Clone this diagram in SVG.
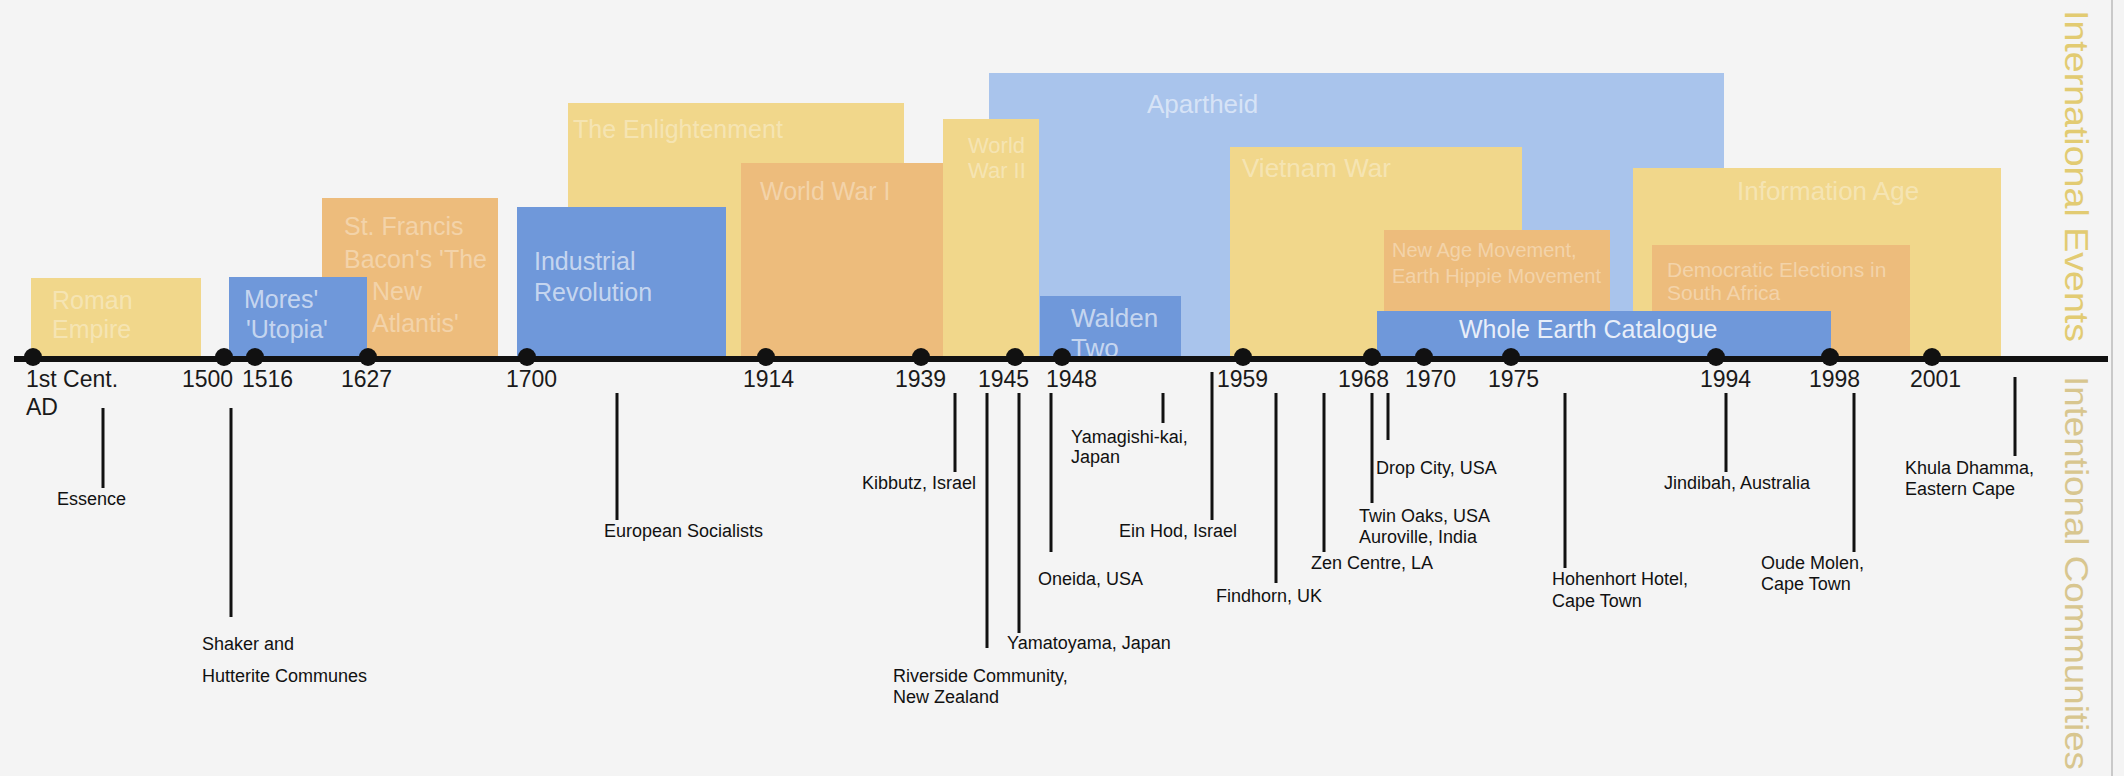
<svg xmlns="http://www.w3.org/2000/svg" width="2124" height="776" viewBox="0 0 2124 776">
<defs>
<style>
text{font-family:"Liberation Sans",Arial,sans-serif}
.y{fill:#f1d78b}
.o{fill:#edbc7c}
.b{fill:#6f98da}
.lb{fill:#a9c4ec}
.tw{fill:#ffffff;fill-opacity:0.36;font-size:25px}
.tb{fill:#ffffff;fill-opacity:0.62;font-size:25px}
.yr{fill:#1a1a1a;font-size:23px}
.lab{fill:#111;font-size:18px}
.ld{stroke:#111;stroke-width:3;fill:none}
.dot{fill:#111}
</style>
<clipPath id="cw2"><rect x="943" y="119" width="96" height="240"/></clipPath>
<clipPath id="cbac"><rect x="322" y="198" width="176" height="161"/></clipPath>
</defs>
<rect x="0" y="0" width="2124" height="776" fill="#f4f4f4"/>

<g id="roman-empire"><rect class="y" x="31" y="278" width="170" height="81"/><text class="tw" x="52" y="309">Roman</text><text class="tw" x="52" y="338">Empire</text></g>
<g id="bacon"><rect class="o" x="322" y="198" width="176" height="161"/><g clip-path="url(#cbac)"><text class="tw" x="344" y="235">St. Francis</text><text class="tw" x="344" y="268">Bacon's 'The</text><text class="tw" x="372" y="300">New</text><text class="tw" x="372" y="332">Atlantis'</text></g></g>
<g id="mores-utopia"><rect class="b" x="229" y="277" width="138" height="82"/><text class="tb" x="244" y="308">Mores'</text><text class="tb" x="246" y="338">'Utopia'</text></g>
<g id="enlightenment"><rect class="y" x="568" y="103" width="336" height="256"/><text class="tw" x="573" y="138">The Enlightenment</text></g>
<g id="world-war-1"><rect class="o" x="741" y="163" width="220" height="196"/><text class="tw" x="760" y="200" font-size="24">World War I</text></g>
<g id="industrial-revolution"><rect class="b" x="517" y="207" width="209" height="152"/><text class="tb" x="534" y="270">Industrial</text><text class="tb" x="534" y="301">Revolution</text></g>
<g id="apartheid"><rect class="lb" x="989" y="73" width="735" height="286"/><text class="tw" x="1147" y="113" style="font-size:26px;fill-opacity:0.55">Apartheid</text></g>
<g id="world-war-2"><rect class="y" x="943" y="119" width="96" height="240"/><g clip-path="url(#cw2)"><text class="tw" x="968" y="153" style="font-size:22px">World</text><text class="tw" x="968" y="178" style="font-size:22px">War II</text></g></g>
<g id="walden-two"><rect class="b" x="1040" y="296" width="141" height="63"/><text class="tb" x="1071" y="327" style="font-size:26px">Walden</text><text class="tb" x="1071" y="357" style="font-size:26px">Two</text></g>
<g id="vietnam-war"><rect class="y" x="1230" y="147" width="292" height="212"/><text class="tw" x="1242" y="177" style="font-size:26px">Vietnam War</text></g>
<g id="new-age"><rect class="o" x="1384" y="230" width="226" height="129"/><text class="tw" x="1392" y="257" style="font-size:20px">New Age Movement,</text><text class="tw" x="1392" y="283" style="font-size:20px">Earth Hippie Movement</text></g>
<g id="information-age"><rect class="y" x="1633" y="168" width="368" height="191"/><text class="tw" x="1737" y="200" style="font-size:26px">Information Age</text></g>
<g id="democratic-elections"><rect class="o" x="1652" y="245" width="258" height="114"/><text class="tw" x="1667" y="277" style="font-size:21px">Democratic Elections in</text><text class="tw" x="1667" y="300" style="font-size:21px">South Africa</text></g>
<g id="whole-earth-catalogue"><rect class="b" x="1377" y="311" width="454" height="48"/><text class="tb" x="1459" y="338" style="fill-opacity:0.85">Whole Earth Catalogue</text></g>

<g id="side-titles">
<line x1="2112" y1="0" x2="2112" y2="776" stroke="#c9c9c9" stroke-width="2"/>
<text transform="translate(2065,10) rotate(90)" x="0" y="0" font-size="34" fill="#e2cb72" textLength="332" lengthAdjust="spacingAndGlyphs">International Events</text>
<text transform="translate(2065,376) rotate(90)" x="0" y="0" font-size="34" fill="#d8c68f" textLength="394" lengthAdjust="spacingAndGlyphs">Intentional Communities</text>
</g>

<g id="axis">
<line x1="14" y1="359" x2="2108" y2="359" stroke="#111" stroke-width="6"/>
<g class="dot">
<circle cx="33" cy="357" r="9"/><circle cx="224" cy="357" r="9"/><circle cx="255" cy="357" r="9"/><circle cx="368" cy="357" r="9"/><circle cx="527" cy="357" r="9"/><circle cx="766" cy="357" r="9"/><circle cx="921" cy="357" r="9"/><circle cx="1015" cy="357" r="9"/><circle cx="1062" cy="357" r="9"/><circle cx="1243" cy="357" r="9"/><circle cx="1372" cy="357" r="9"/><circle cx="1424" cy="357" r="9"/><circle cx="1511" cy="357" r="9"/><circle cx="1716" cy="357" r="9"/><circle cx="1830" cy="357" r="9"/><circle cx="1932" cy="357" r="9"/>
</g>
<g class="yr">
<text x="26" y="387">1st Cent.</text><text x="26" y="415">AD</text>
<text x="182" y="387">1500</text><text x="242" y="387">1516</text><text x="341" y="387">1627</text><text x="506" y="387">1700</text><text x="743" y="387">1914</text><text x="895" y="387">1939</text><text x="978" y="387">1945</text><text x="1046" y="387">1948</text><text x="1217" y="387">1959</text><text x="1338" y="387">1968</text><text x="1405" y="387">1970</text><text x="1488" y="387">1975</text><text x="1700" y="387">1994</text><text x="1809" y="387">1998</text><text x="1910" y="387">2001</text>
</g>
</g>

<g id="connectors" class="ld">
<line x1="103" y1="408" x2="103" y2="488"/>
<line x1="231" y1="408" x2="231" y2="617"/>
<line x1="617" y1="393" x2="617" y2="520"/>
<line x1="955" y1="393" x2="955" y2="472"/>
<line x1="987" y1="393" x2="987" y2="648"/>
<line x1="1019" y1="393" x2="1019" y2="633"/>
<line x1="1051" y1="393" x2="1051" y2="552"/>
<line x1="1163" y1="393" x2="1163" y2="423"/>
<line x1="1212" y1="372" x2="1212" y2="520"/>
<line x1="1276" y1="393" x2="1276" y2="583"/>
<line x1="1324" y1="393" x2="1324" y2="552"/>
<line x1="1372" y1="393" x2="1372" y2="503"/>
<line x1="1388" y1="393" x2="1388" y2="440"/>
<line x1="1565" y1="393" x2="1565" y2="568"/>
<line x1="1726" y1="393" x2="1726" y2="472"/>
<line x1="1854" y1="393" x2="1854" y2="552"/>
<line x1="2015" y1="377" x2="2015" y2="456"/>
</g>

<g id="essence" class="lab"><text x="57" y="505">Essence</text></g>
<g id="shaker" class="lab"><text x="202" y="650">Shaker and</text><text x="202" y="682">Hutterite Communes</text></g>
<g id="european-socialists" class="lab"><text x="604" y="537">European Socialists</text></g>
<g id="kibbutz" class="lab"><text x="862" y="489">Kibbutz, Israel</text></g>
<g id="riverside" class="lab"><text x="893" y="682">Riverside Community,</text><text x="893" y="703">New Zealand</text></g>
<g id="yamatoyama" class="lab"><text x="1007" y="649">Yamatoyama, Japan</text></g>
<g id="oneida" class="lab"><text x="1038" y="585">Oneida, USA</text></g>
<g id="yamagishi" class="lab"><text x="1071" y="443">Yamagishi-kai,</text><text x="1071" y="463">Japan</text></g>
<g id="ein-hod" class="lab"><text x="1119" y="537">Ein Hod, Israel</text></g>
<g id="findhorn" class="lab"><text x="1216" y="602">Findhorn, UK</text></g>
<g id="zen-centre" class="lab"><text x="1311" y="569">Zen Centre, LA</text></g>
<g id="twin-oaks" class="lab"><text x="1359" y="522">Twin Oaks, USA</text><text x="1359" y="543">Auroville, India</text></g>
<g id="drop-city" class="lab"><text x="1376" y="474">Drop City, USA</text></g>
<g id="hohenhort" class="lab"><text x="1552" y="585">Hohenhort Hotel,</text><text x="1552" y="607">Cape Town</text></g>
<g id="jindibah" class="lab"><text x="1664" y="489">Jindibah, Australia</text></g>
<g id="oude-molen" class="lab"><text x="1761" y="569">Oude Molen,</text><text x="1761" y="590">Cape Town</text></g>
<g id="khula-dhamma" class="lab"><text x="1905" y="474">Khula Dhamma,</text><text x="1905" y="495">Eastern Cape</text></g>
</svg>
